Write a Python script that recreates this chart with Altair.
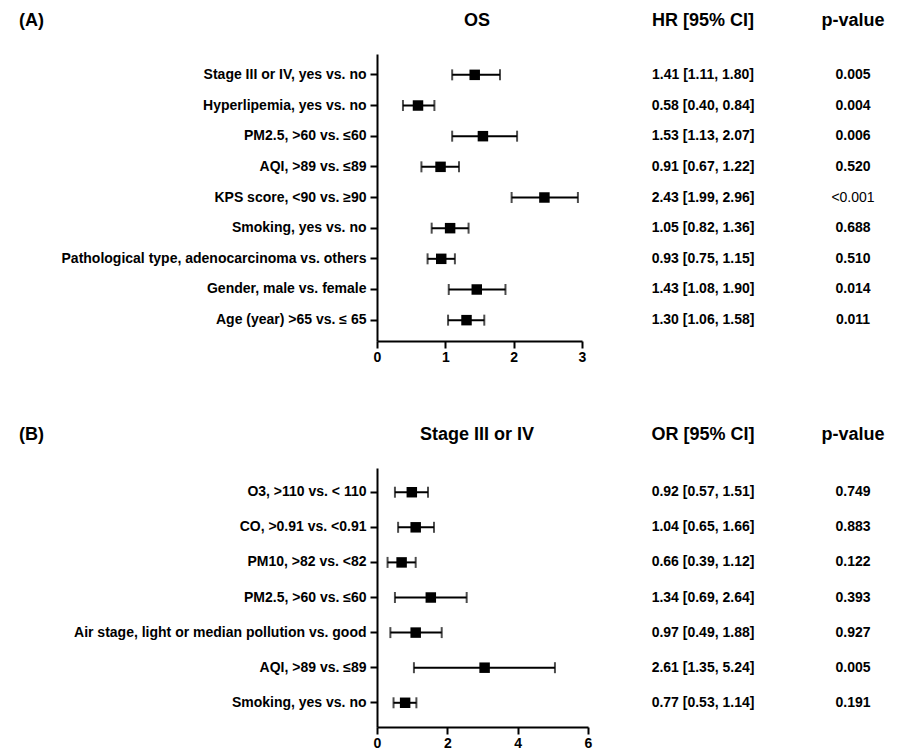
import altair as alt
import pandas as pd

a_labels = ["Stage III or IV, yes vs. no", "Hyperlipemia, yes vs. no", "PM2.5, >60 vs. ≤60",
            "AQI, >89 vs. ≤89", "KPS score, <90 vs. ≥90", "Smoking, yes vs. no",
            "Pathological type, adenocarcinoma vs. others", "Gender, male vs. female",
            "Age (year) >65 vs. ≤ 65"]
a_est = [1.43, 0.60, 1.55, 0.93, 2.45, 1.07, 0.94, 1.46, 1.31]
a_lo = [1.10, 0.38, 1.10, 0.65, 1.97, 0.80, 0.74, 1.05, 1.04]
a_hi = [1.80, 0.84, 2.05, 1.20, 2.94, 1.34, 1.14, 1.88, 1.57]
a_ci = ["1.41 [1.11, 1.80]", "0.58 [0.40, 0.84]", "1.53 [1.13, 2.07]", "0.91 [0.67, 1.22]",
        "2.43 [1.99, 2.96]", "1.05 [0.82, 1.36]", "0.93 [0.75, 1.15]", "1.43 [1.08, 1.90]",
        "1.30 [1.06, 1.58]"]
a_p = ["0.005", "0.004", "0.006", "0.520", "<0.001", "0.688", "0.510", "0.014", "0.011"]

b_labels = ["O3, >110 vs. < 110", "CO, >0.91 vs. <0.91", "PM10, >82 vs. <82", "PM2.5, >60 vs. ≤60",
            "Air stage, light or median pollution vs. good", "AQI, >89 vs. ≤89", "Smoking, yes vs. no"]
b_est = [0.99, 1.10, 0.70, 1.53, 1.10, 3.06, 0.80]
b_lo = [0.51, 0.60, 0.30, 0.51, 0.38, 1.05, 0.47]
b_hi = [1.45, 1.62, 1.10, 2.55, 1.84, 5.06, 1.12]
b_ci = ["0.92 [0.57, 1.51]", "1.04 [0.65, 1.66]", "0.66 [0.39, 1.12]", "1.34 [0.69, 2.64]",
        "0.97 [0.49, 1.88]", "2.61 [1.35, 5.24]", "0.77 [0.53, 1.14]"]
b_p = ["0.749", "0.883", "0.122", "0.393", "0.927", "0.005", "0.191"]

FONT = "Liberation Sans"


def panel(labels, est, lo, hi, ci, p, xmax, w, h, pad, tag, title, cihead, ciw, px):
    df = pd.DataFrame({"label": labels, "est": est, "lo": lo, "hi": hi, "ci": ci,
                       "p": p, "pbold": [not v.startswith("<") for v in p]})
    ysort = alt.Y("label:N", sort=labels)
    yenc = alt.Y("label:N", sort=labels, title=None,
                 scale=alt.Scale(paddingInner=0, paddingOuter=pad),
                 axis=alt.Axis(labelFont=FONT, labelFontSize=14, labelFontWeight="bold",
                               labelColor="black", labelLimit=500, domainColor="black",
                               domainWidth=2, tickColor="black", tickWidth=2, tickSize=7,
                               labelPadding=4))
    xenc = alt.X("lo:Q", title=None,
                 scale=alt.Scale(domain=[0, xmax], nice=False),
                 axis=alt.Axis(values=list(range(0, xmax + 1, 1 if xmax == 3 else 2)), format="d",
                               labelFont=FONT, labelFontSize=14, labelFontWeight="bold",
                               labelColor="black", grid=False, domainColor="black",
                               domainWidth=2, tickColor="black", tickWidth=2, tickSize=7,
                               labelFlush=False))
    base = alt.Chart(df)
    rule = base.mark_rule(color="black", strokeWidth=2).encode(x=xenc, x2="hi:Q", y=yenc)
    cap1 = base.mark_tick(color="black", thickness=2, size=11, orient="vertical").encode(x="lo:Q", y=ysort)
    cap2 = base.mark_tick(color="black", thickness=2, size=11, orient="vertical").encode(x="hi:Q", y=ysort)
    pt = base.mark_square(color="black", opacity=1, size=110).encode(x="est:Q", y=ysort)
    citxt = base.mark_text(font=FONT, fontSize=14, fontWeight="bold", color="black").encode(
        x=alt.value(ciw), y=ysort, text="ci:N")
    ptxt = base.mark_text(font=FONT, fontSize=14, color="black").encode(
        x=alt.value(px), y=ysort, text="p:N").transform_filter("!datum.pbold")
    ptxtb = base.mark_text(font=FONT, fontSize=14, fontWeight="bold", color="black").encode(
        x=alt.value(px), y=ysort, text="p:N").transform_filter("datum.pbold")
    hdr = pd.DataFrame({"t": [title, cihead, "p-value"], "x": [100, ciw, px]})
    head = alt.Chart(hdr).mark_text(font=FONT, fontSize=18, fontWeight="bold", color="black").encode(
        x=alt.X("x:Q", scale=None), y=alt.value(-33), text="t:N")
    tagc = alt.Chart(pd.DataFrame({"t": [tag]})).mark_text(
        font=FONT, fontSize=18, fontWeight="bold", color="black", align="left").encode(
        x=alt.value(-358), y=alt.value(-33), text="t:N")
    return alt.layer(rule, cap1, cap2, pt, citxt, ptxt, ptxtb, head, tagc).properties(width=w, height=h)


A = panel(a_labels, a_est, a_lo, a_hi, a_ci, a_p, 3, 205, 287, 0.18, "(A)", "OS",
          "HR [95% CI]", 326, 476)
B = panel(b_labels, b_est, b_lo, b_hi, b_ci, b_p, 6, 211, 259, 0.19, "(B)", "Stage III or IV",
          "OR [95% CI]", 326, 476)

chart = alt.vconcat(A, B, spacing=62).configure_view(stroke=None).properties(
    padding={"left": 11, "top": 4, "right": 5, "bottom": 5})
chart.save("out.html", embed_options={"renderer": "svg", "actions": False})
